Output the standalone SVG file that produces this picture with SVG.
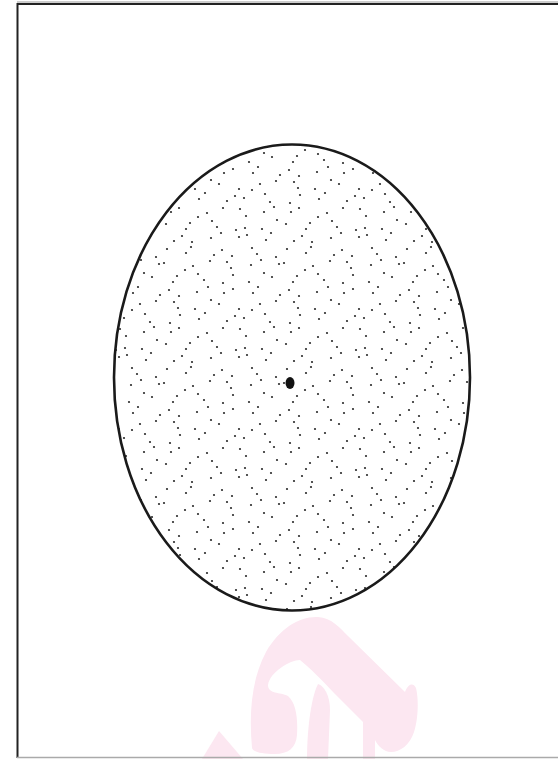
<svg xmlns="http://www.w3.org/2000/svg" width="558" height="759" viewBox="0 0 558 759">
  <style>
    .wm { fill: #fce7f1; stroke: none; }
    .dot circle { fill: #2a2a2a; }
  </style>
  <defs>
    <pattern id="stipple" patternUnits="userSpaceOnUse" width="120" height="120" x="2" y="5">
      <g class="dot">
        <circle cx="10" cy="3" r="1.1"/><circle cx="15" cy="9" r="1.1"/><circle cx="34" cy="12" r="1.1"/><circle cx="45" cy="4" r="1.1"/><circle cx="64" cy="8" r="1.1"/><circle cx="69" cy="2" r="1.1"/><circle cx="92" cy="10" r="1.1"/><circle cx="100" cy="5" r="1.1"/><circle cx="110" cy="11" r="1.1"/>
        <circle cx="9" cy="20" r="1.1"/><circle cx="19" cy="15" r="1.1"/><circle cx="37" cy="19" r="1.1"/><circle cx="42" cy="18" r="1.1"/><circle cx="63" cy="25" r="1.1"/><circle cx="71" cy="21" r="1.1"/><circle cx="88" cy="16" r="1.1"/><circle cx="105" cy="17" r="1.1"/><circle cx="109" cy="23" r="1.1"/>
        <circle cx="7" cy="37" r="1.1"/><circle cx="22" cy="28" r="1.1"/><circle cx="30" cy="32" r="1.1"/><circle cx="51" cy="37" r="1.1"/><circle cx="55" cy="31" r="1.1"/><circle cx="76" cy="29" r="1.1"/><circle cx="82" cy="35" r="1.1"/><circle cx="101" cy="38" r="1.1"/><circle cx="111" cy="30" r="1.1"/>
        <circle cx="11" cy="48" r="1.1"/><circle cx="16" cy="42" r="1.1"/><circle cx="38" cy="50" r="1.1"/><circle cx="47" cy="45" r="1.1"/><circle cx="57" cy="51" r="1.1"/><circle cx="75" cy="47" r="1.1"/><circle cx="86" cy="42" r="1.1"/><circle cx="102" cy="48" r="1.1"/><circle cx="111" cy="44" r="1.1"/>
        <circle cx="10" cy="65" r="1.1"/><circle cx="18" cy="59" r="1.1"/><circle cx="34" cy="56" r="1.1"/><circle cx="52" cy="57" r="1.1"/><circle cx="56" cy="63" r="1.1"/><circle cx="73" cy="64" r="1.1"/><circle cx="89" cy="55" r="1.1"/><circle cx="97" cy="59" r="1.1"/><circle cx="117" cy="64" r="1.1"/>
        <circle cx="2" cy="73" r="1.1"/><circle cx="23" cy="69" r="1.1"/><circle cx="28" cy="77" r="1.1"/><circle cx="48" cy="78" r="1.1"/><circle cx="58" cy="70" r="1.1"/><circle cx="77" cy="74" r="1.1"/><circle cx="83" cy="68" r="1.1"/><circle cx="105" cy="76" r="1.1"/><circle cx="113" cy="71" r="1.1"/>
        <circle cx="4" cy="91" r="1.1"/><circle cx="22" cy="87" r="1.1"/><circle cx="32" cy="82" r="1.1"/><circle cx="49" cy="87" r="1.1"/><circle cx="57" cy="83" r="1.1"/><circle cx="76" cy="92" r="1.1"/><circle cx="85" cy="88" r="1.1"/><circle cx="101" cy="83" r="1.1"/><circle cx="118" cy="84" r="1.1"/>
        <circle cx="3" cy="103" r="1.1"/><circle cx="20" cy="104" r="1.1"/><circle cx="35" cy="95" r="1.1"/><circle cx="44" cy="99" r="1.1"/><circle cx="64" cy="104" r="1.1"/><circle cx="68" cy="98" r="1.1"/><circle cx="90" cy="96" r="1.1"/><circle cx="95" cy="102" r="1.1"/><circle cx="114" cy="105" r="1.1"/>
        <circle cx="5" cy="110" r="1.1"/><circle cx="24" cy="115" r="1.1"/><circle cx="29" cy="108" r="1.1"/><circle cx="52" cy="116" r="1.1"/><circle cx="60" cy="111" r="1.1"/><circle cx="70" cy="117" r="1.1"/><circle cx="89" cy="113" r="1.1"/><circle cx="99" cy="108" r="1.1"/><circle cx="117" cy="112" r="1.1"/>
      </g>
    </pattern>
  </defs>

  <rect x="0" y="0" width="558" height="759" fill="#ffffff"/>

  <g id="watermark">
    <path class="wm" d="M202,759 L219,731 L243,759 Z"/>
    <path class="wm" d="M252,748 C249,715 251,680 266,652 C280,628 300,616 318,617 C332,618 340,628 348,636 L405,692 C408,684 413,682 416,688 C419,700 418,720 414,732 C410,745 400,752 391,752 C384,752 378,746 375,740 L375,759 L363,759 L363,722 L334,693 C322,680 310,668 300,660 C290,660 270,672 268,685 C268,694 280,692 288,696 C296,703 298,718 297,735 C296,748 288,754 275,754 C262,754 253,752 252,748 Z"/>
    <path class="wm" d="M318,684 C324,686 330,695 330,710 L328,759 L307,759 C307,735 310,700 318,684 Z"/>
  </g>

  <g id="frame" fill="none">
    <line x1="17.5" y1="3" x2="17.5" y2="758" stroke="#222" stroke-width="2"/>
    <line x1="17" y1="4" x2="558" y2="4" stroke="#222" stroke-width="2"/>
    <line x1="17" y1="2" x2="558" y2="2" stroke="#999" stroke-width="1"/>
    <line x1="17" y1="757.5" x2="558" y2="757.5" stroke="#aaa" stroke-width="1.5"/>
  </g>

  <g id="body">
    <ellipse cx="292" cy="377.5" rx="178" ry="233" fill="url(#stipple)" stroke="#1a1a1a" stroke-width="2.6"/>
    <ellipse id="centre" cx="290" cy="383" rx="4.5" ry="6" fill="#111"/>
  </g>
</svg>
